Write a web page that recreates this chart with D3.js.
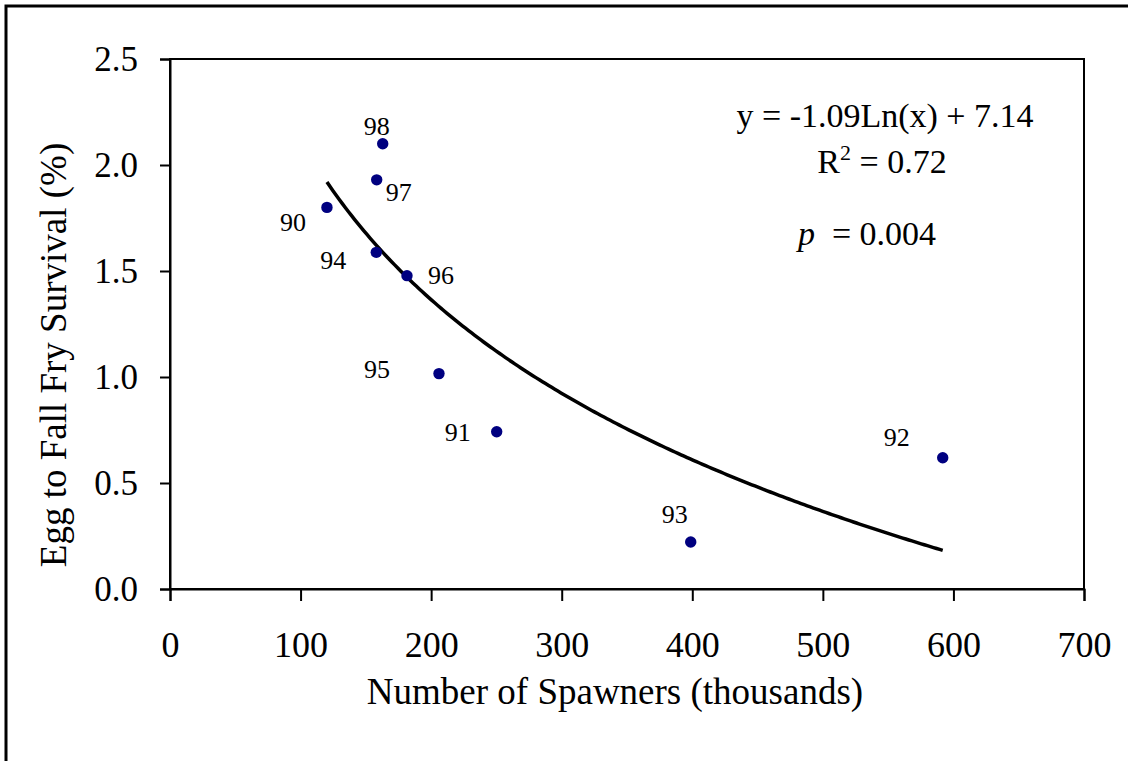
<!DOCTYPE html>
<html>
<head>
<meta charset="utf-8">
<script src="https://cdn.jsdelivr.net/npm/d3@7"></script>
<style>
  html, body { margin: 0; padding: 0; background: #fff; }
  svg { display: block; }
  text { font-family: "Liberation Serif", "Times New Roman", serif; fill: #000; }
</style>
</head>
<body>
<svg id="chart" width="1128" height="761"></svg>
<script>
// ---- Data ----
const years = ["90", "91", "92", "93", "94", "95", "96", "97", "98"];
const spawners = [120.2, 250.2, 591.8, 398.8, 158.0, 206.0, 181.5, 158.3, 162.9];
const survival = [1.80, 0.742, 0.619, 0.222, 1.588, 1.016, 1.478, 1.93, 2.10];
const xTicks = [0, 100, 200, 300, 400, 500, 600, 700];
const yTicks = [0, 0.5, 1.0, 1.5, 2.0, 2.5];
// logarithmic trendline as printed on chart: y = a*ln(x) + b
const trendA = -1.09;
const trendB = 7.14;
// label offsets (pixels) relative to each point: [dx, dy]
const labelOffsets = [[-34, 24], [-39, 9], [-46, -12], [-16, -19], [-43, 17], [-62, 4], [34, 8], [22, 21], [-6, -9]];

// ---- Layout ----
const svg = d3.select("#chart");
const L = 170, R = 1084, T = 59, B = 589;

// outer border (extends past right/bottom like the reference)
svg.append("rect").attr("x", 6).attr("y", 6).attr("width", 1140).attr("height", 780)
  .attr("fill", "none").attr("stroke", "#000").attr("stroke-width", 3);

const x = d3.scaleLinear().domain([0, 700]).range([L, R]);
const y = d3.scaleLinear().domain([0, 2.5]).range([B, T]);

// plot area border
svg.append("rect").attr("x", L).attr("y", T).attr("width", R - L).attr("height", B - T)
  .attr("fill", "none").attr("stroke", "#000").attr("stroke-width", 2);

// x axis
const xAxis = svg.append("g").attr("transform", `translate(0,${B})`)
  .call(d3.axisBottom(x).tickValues(xTicks).tickFormat(d3.format("d")).tickSize(12).tickPadding(30));
xAxis.select(".domain").attr("stroke-width", 2);
xAxis.selectAll(".tick line").attr("stroke-width", 2);
xAxis.selectAll(".tick text").style("font-size", "36px").style("font-family", "Liberation Serif").attr("fill", "#000");

// y axis
const yAxis = svg.append("g").attr("transform", `translate(${L},0)`)
  .call(d3.axisLeft(y).tickValues(yTicks).tickFormat(d3.format(".1f")).tickSize(10).tickPadding(22));
yAxis.select(".domain").attr("stroke-width", 2);
yAxis.selectAll(".tick line").attr("stroke-width", 2);
yAxis.selectAll(".tick text").style("font-size", "35px").style("font-family", "Liberation Serif").attr("fill", "#000");

// axis titles
svg.append("text").attr("x", 615).attr("y", 704).attr("text-anchor", "middle")
  .style("font-size", "37px").text("Number of Spawners (thousands)");
svg.append("text").attr("transform", "translate(66,355) rotate(-90)").attr("text-anchor", "middle")
  .style("font-size", "37px").text("Egg to Fall Fry Survival (%)");

// trendline
const [xmin, xmax] = d3.extent(spawners);
const curvePts = d3.range(0, 201).map(i => {
  const xv = xmin + (xmax - xmin) * i / 200;
  return [xv, trendA * Math.log(xv) + trendB];
});
svg.append("path").datum(curvePts)
  .attr("d", d3.line().x(d => x(d[0])).y(d => y(d[1])))
  .attr("fill", "none").attr("stroke", "#000").attr("stroke-width", 3.5);

// points
const pts = years.map((yr, i) => ({ yr, sx: spawners[i], sv: survival[i], off: labelOffsets[i] }));
svg.append("g").selectAll("circle").data(pts).join("circle")
  .attr("cx", d => x(d.sx)).attr("cy", d => y(d.sv)).attr("r", 5.7).attr("fill", "#000080");

svg.append("g").selectAll("text").data(pts).join("text")
  .attr("x", d => x(d.sx) + d.off[0]).attr("y", d => y(d.sv) + d.off[1])
  .attr("text-anchor", "middle").style("font-size", "26px").text(d => d.yr);

// equation annotation
svg.append("text").attr("x", 885).attr("y", 127).attr("text-anchor", "middle")
  .style("font-size", "34px").text("y = -1.09Ln(x) + 7.14");
const r2 = svg.append("text").attr("x", 882).attr("y", 173).attr("text-anchor", "middle")
  .style("font-size", "34px");
r2.append("tspan").text("R");
r2.append("tspan").attr("dy", -13).style("font-size", "22px").text("2");
r2.append("tspan").attr("dy", 13).text(" = 0.72");
const pt = svg.append("text").attr("x", 867).attr("y", 245).attr("text-anchor", "middle")
  .style("font-size", "34px");
pt.append("tspan").style("font-style", "italic").text("p");
pt.append("tspan").text("\u00a0 = 0.004");
</script>
</body>
</html>
